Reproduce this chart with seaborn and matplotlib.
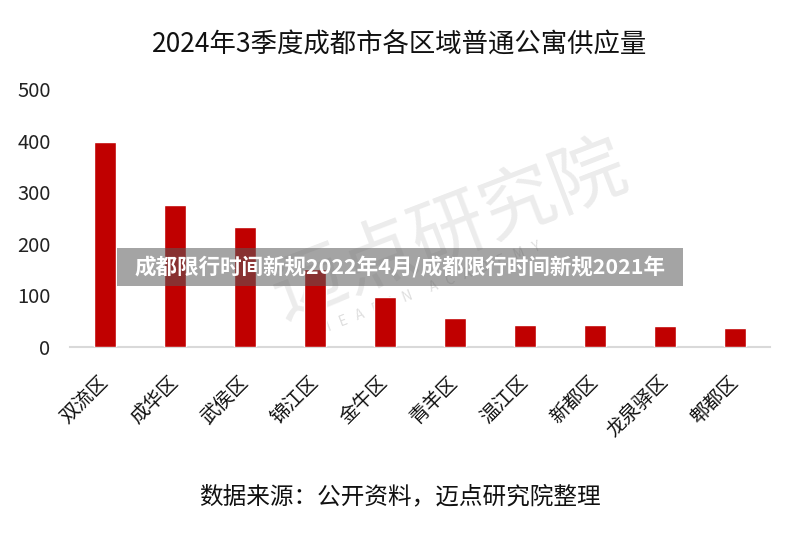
import matplotlib
matplotlib.use('Agg')
import matplotlib.pyplot as plt
import seaborn as sns
import pandas as pd
from matplotlib.patches import Rectangle

# 2024年3季度 各区域普通公寓供应量
districts = ['双流区', '成华区', '武侯区', '锦江区', '金牛区',
             '青羊区', '温江区', '新都区', '龙泉驿区', '郫都区']
supply = [397, 275, 233, 152, 96, 56, 43, 43, 41, 36]
yticks = [0, 100, 200, 300, 400, 500]

TITLE = '2024年3季度成都市各区域普通公寓供应量'
SOURCE = '数据来源：公开资料，迈点研究院整理'
BANNER = '成都限行时间新规2022年4月/成都限行时间新规2021年'

sns.set_theme(style='white')
plt.rcParams['font.family'] = ['Noto Sans CJK SC', 'DejaVu Sans']

W, H = 800, 535
fig = plt.figure(figsize=(W / 100, H / 100), dpi=100)
ax = fig.add_axes([70 / W, 1 - 347 / H, 700 / W, (347 - 89) / H])

df = pd.DataFrame({'district': districts, 'supply': supply})
sns.barplot(data=df, x='district', y='supply', color='#C00000',
            saturation=1, width=0.31, ax=ax, zorder=3)

ax.set_xlim(-0.5, len(districts) - 0.5)
ax.set_ylim(0, 500)
ax.set_yticks(yticks)
ax.set_xlabel('')
ax.set_ylabel('')
for s in ['top', 'right', 'left']:
    ax.spines[s].set_visible(False)
ax.spines['bottom'].set_color('#d9d9d9')
ax.spines['bottom'].set_linewidth(1.5)

ax.tick_params(axis='y', length=0, pad=14, labelsize=14.5, labelcolor='#222222')
ax.tick_params(axis='x', length=0, pad=23, labelsize=14, labelcolor='#111111')
for lab in ax.get_xticklabels():
    lab.set_rotation(45)
    lab.set_ha('right')
    lab.set_va('center')
    lab.set_rotation_mode('anchor')

# watermark (behind the bars)
ax.text(450 / W, 1 - 232 / H, '迈点研究院', transform=fig.transFigure,
        fontsize=54, color='black', alpha=0.08, rotation=21,
        ha='center', va='center', zorder=1)
ax.text(430 / W, 1 - 288 / H, 'M   E   A   D   I   N      A   C   A   D   E   M   Y',
        transform=fig.transFigure, fontsize=10, color='black', alpha=0.13,
        rotation=21, ha='center', va='center', zorder=1)

fig.text(0.5, 1 - 45 / H, TITLE, fontsize=19, color='#111111',
         ha='center', va='center')
fig.text(0.5, 1 - 497 / H, SOURCE, fontsize=17, color='#111111',
         ha='center', va='center')

# grey overlay banner
fig.patches.append(Rectangle((117 / W, 1 - 286 / H), 566 / W, 38 / H,
                             transform=fig.transFigure, facecolor='#5a5a5a',
                             alpha=0.55, edgecolor='none'))
fig.text(0.5, 1 - 267 / H, BANNER, fontsize=15.5, fontweight='bold',
         color='white', ha='center', va='center')

fig.savefig('out.png', dpi=100)
